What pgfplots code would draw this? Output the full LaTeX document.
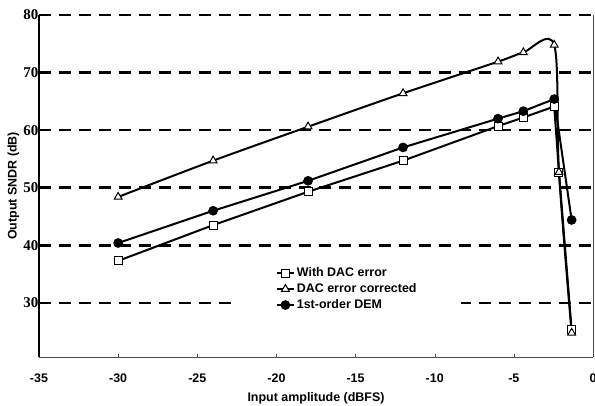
\documentclass[border=0pt]{standalone}
\usepackage{pgfplots}
\pgfplotsset{compat=1.18}
\usepackage{fontspec}
\setmainfont{Liberation Sans}
\newfontfamily\serifb{Liberation Serif}
\begin{document}
\begin{tikzpicture}
\begin{axis}[name=ax, scale only axis, width=554bp, height=342bp,
  at={(0,0)}, anchor=south west,
  xmin=-35, xmax=0, ymin=20.6, ymax=80,
  xtick={-35,-30,...,0}, ytick={30,40,...,80},
  axis lines=left,
  x axis line style={-, draw=gray!60!black, line width=0.8bp},
  y axis line style={-, draw=black, line width=2bp},
  xtick style={draw=gray!60!black, thin},
  ytick style={draw=black, line width=1bp},
  tick align=inside,
  major tick length=3bp,
  /pgf/number format/assume math mode=true,
  xticklabel style={font=\bfseries\fontsize{12.5}{14}\selectfont, yshift=-13bp},
  yticklabel style={font=\serifb\bfseries\fontsize{15}{17}\selectfont, inner xsep=0.5bp},
  ymajorgrids,
  major grid style={black, line width=2.6bp, dash pattern=on 12bp off 8bp},
  xlabel={Input amplitude (dBFS)},
  ylabel={Output SNDR (dB)},
  xlabel style={font=\bfseries\fontsize{12.5}{14}\selectfont, at={(axis description cs:0.5,0)}, anchor=center, yshift=-41bp},
  ylabel style={font=\bfseries\fontsize{12.5}{14}\selectfont, at={(axis description cs:-0.046,0.5)}, anchor=center},
  legend style={at={(axis cs:-22.7,37.0)}, anchor=north west, draw=none, fill=white,
    font=\bfseries\fontsize{12.5}{14}\selectfont, inner xsep=42bp, inner ysep=3bp, row sep=1.5bp,
    /tikz/every even column/.append style={xshift=4bp}},
  legend cell align=left,
  clip=false,
]
\addplot[black, line width=2bp, mark=square*, mark size=4bp, mark options={solid, fill=white, line width=1bp}]
  coordinates {(-30,37.3) (-24,43.5) (-18,49.3) (-12,54.7) (-6,60.7) (-4.4,62.2) (-2.45,64.1) (-2.15,52.7) (-1.35,25.3)};
\addlegendentry{With DAC error}
\addplot[black, line width=2bp, smooth, tension=0.5, mark=triangle*, mark size=4.5bp, mark options={solid, fill=white, line width=1bp}]
  coordinates {(-30,48.4) (-24,54.7) (-18,60.6) (-12,66.4) (-6,71.9) (-4.4,73.5) (-2.45,74.8) (-2.15,52.7) (-1.35,24.8)};
\addlegendentry{DAC error corrected}
\addplot[black, line width=2bp, mark=*, mark size=3.8bp, mark options={solid, fill=black}]
  coordinates {(-30,40.4) (-24,46.0) (-18,51.2) (-12,57.0) (-6,62.0) (-4.4,63.3) (-2.45,65.4) (-1.35,44.4)};
\addlegendentry{1st-order DEM}
\draw[gray!60!black, line width=0.8bp] (rel axis cs:1,0) -- (rel axis cs:1,1);
\end{axis}
\pgfresetboundingbox
\path[use as bounding box] ([shift={(-39bp,-49bp)}]ax.south west) rectangle ([shift={(556bp,357bp)}]ax.south west);
\end{tikzpicture}
\end{document}
